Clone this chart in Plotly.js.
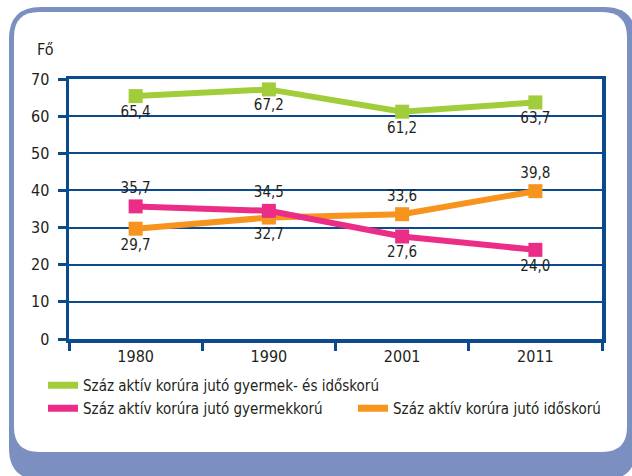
<!DOCTYPE html>
<html>
<head>
<meta charset="utf-8">
<script src="https://cdn.plot.ly/plotly-3.0.1.min.js"></script>
<style>
html,body{margin:0;padding:0;background:#fff;}
#chart{width:632px;height:476px;}
</style>
</head>
<body>
<div id="chart"></div>
<script>
// ---- data ----
const years = ['1980', '1990', '2001', '2011'];
const totalDep = [65.4, 67.2, 61.2, 63.7];
const childDep = [35.7, 34.5, 27.6, 24.0];
const oldDep = [29.7, 32.7, 33.6, 39.8];
const seriesNames = [
  'Száz aktív korúra jutó gyermek- és időskorú',
  'Száz aktív korúra jutó gyermekkorú',
  'Száz aktív korúra jutó időskorú'
];
const yTickVals = [0, 10, 20, 30, 40, 50, 60, 70];
const yUnit = 'Fő';

// ---- styles ----
const FONT = "'DejaVu Sans Condensed', 'Liberation Sans Narrow', 'Arial Narrow', sans-serif";
const TXT = '#231f20';
const AXC = '#0b4a8c';
const GREEN = '#a2cd3a', PINK = '#ec2d87', ORANGE = '#f7941e';
const FRAME = '#7b8fc0';

const W = 632, H = 476, L = 69, R = 30, T = 79, B = 137;
const pw = W - L - R, ph = H - T - B;
const px = x => (x - L) / pw;
const py = y => (H - B - y) / ph;

function roundRect(x0, y0, x1, y1, r) {
  const p = (x, y) => px(x) + ',' + py(y);
  return 'M' + p(x0 + r, y0) + ' L' + p(x1 - r, y0) + ' Q' + p(x1, y0) + ' ' + p(x1, y0 + r) +
    ' L' + p(x1, y1 - r) + ' Q' + p(x1, y1) + ' ' + p(x1 - r, y1) +
    ' L' + p(x0 + r, y1) + ' Q' + p(x0, y1) + ' ' + p(x0, y1 - r) +
    ' L' + p(x0, y0 + r) + ' Q' + p(x0, y0) + ' ' + p(x0 + r, y0) + ' Z';
}

function mainTrace(vals, color, pos) {
  return {
    type: 'scatter', mode: 'lines+markers+text',
    x: years, y: vals,
    line: {color: color, width: 6},
    marker: {color: color, symbol: 'square', size: 14},
    texttemplate: '%{y:.1f}',
    textposition: pos,
    textfont: {family: FONT, size: 15, color: TXT},
    showlegend: false, cliponaxis: false, hoverinfo: 'skip'
  };
}
function legTrace(name, color, leg) {
  return {
    type: 'scatter', mode: 'lines', x: [null], y: [null], name: name,
    line: {color: color, width: 7}, legend: leg, showlegend: true
  };
}

const data = [
  mainTrace(oldDep, ORANGE, ['bottom center', 'bottom center', 'top center', 'top center']),
  mainTrace(childDep, PINK, ['top center', 'top center', 'bottom center', 'bottom center']),
  mainTrace(totalDep, GREEN, ['bottom center', 'bottom center', 'bottom center', 'bottom center']),
  legTrace(seriesNames[0], GREEN, 'legend'),
  legTrace(seriesNames[1], PINK, 'legend2'),
  legTrace(seriesNames[2], ORANGE, 'legend3')
];

const legFont = {family: FONT, size: 15, color: TXT};
const legBase = {bgcolor: 'rgba(0,0,0,0)', font: legFont, xanchor: 'left', yanchor: 'middle', orientation: 'h', borderwidth: 0};

const layout = {
  width: W, height: H,
  margin: {l: L, r: R, t: T, b: B, pad: 0, autoexpand: false},
  paper_bgcolor: '#ffffff', plot_bgcolor: 'rgba(0,0,0,0)',
  separators: ', ',
  font: {family: FONT, color: TXT, size: 15},
  xaxis: {
    type: 'category', range: [-0.5, 3.5], tickson: 'boundaries',
    ticks: 'outside', ticklen: 8, tickwidth: 3, tickcolor: AXC,
    showline: true, linecolor: AXC, linewidth: 3.5, mirror: true,
    showgrid: false, tickfont: {family: FONT, size: 16, color: TXT}, fixedrange: true
  },
  yaxis: {
    range: [0, 70], tickvals: yTickVals, ticks: 'outside', ticklen: 8, tickwidth: 3, tickcolor: AXC,
    showline: true, linecolor: AXC, linewidth: 3.5, mirror: true,
    showgrid: true, gridcolor: AXC, gridwidth: 2, zeroline: false,
    tickfont: {family: FONT, size: 16, color: TXT}, ticklabelstandoff: 5, fixedrange: true
  },
  legend: Object.assign({}, legBase, {x: px(43), y: py(385.5)}),
  legend2: Object.assign({}, legBase, {x: px(43), y: py(408.5)}),
  legend3: Object.assign({}, legBase, {x: px(353), y: py(408.5)}),
  annotations: [{
    text: yUnit, xref: 'paper', yref: 'paper', x: px(35), y: py(50),
    xanchor: 'left', yanchor: 'middle', showarrow: false,
    font: {family: FONT, size: 16, color: TXT}
  }],
  shapes: [
    {type: 'path', xref: 'paper', yref: 'paper', layer: 'below', path: roundRect(9, 7, 636, 480, 32), fillcolor: FRAME, line: {width: 0}},
    {type: 'path', xref: 'paper', yref: 'paper', layer: 'below', path: roundRect(14, 12, 627, 452, 25), fillcolor: '#ffffff', line: {width: 0}}
  ]
};

Plotly.newPlot('chart', data, layout, {displayModeBar: false, staticPlot: true});
</script>
</body>
</html>
